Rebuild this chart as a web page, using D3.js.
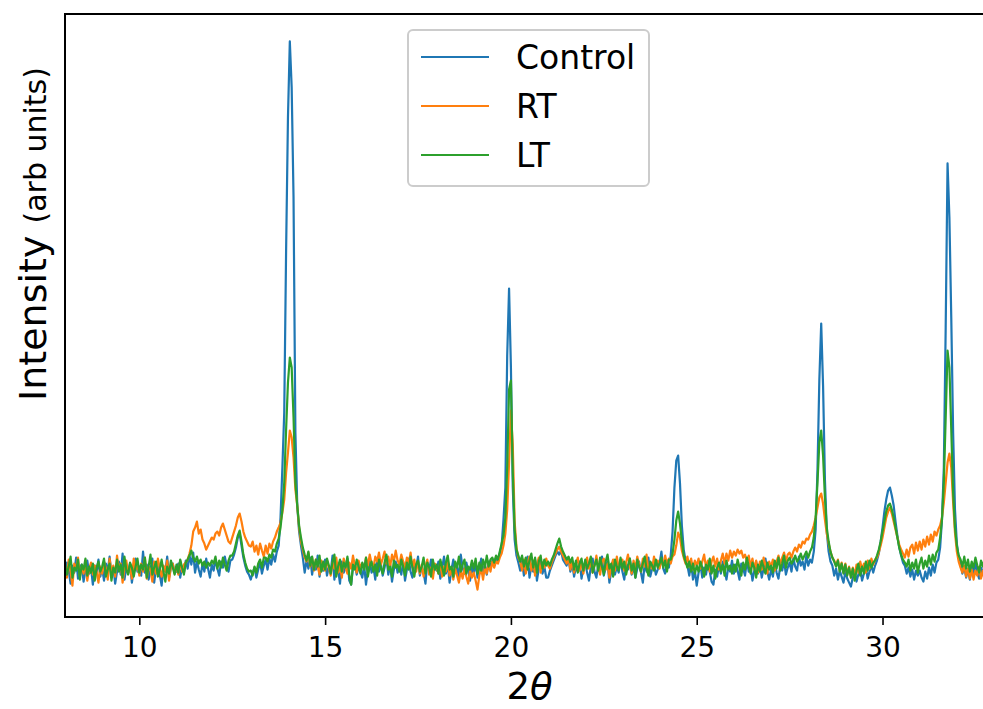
<!DOCTYPE html>
<html>
<head>
<meta charset="utf-8">
<script src="https://cdn.jsdelivr.net/npm/d3@7"></script>
<style>
  body { margin: 0; background: #fff; }
  svg text { font-family: "DejaVu Sans", sans-serif; fill: #000; }
</style>
</head>
<body>
<svg id="chart" width="983" height="709"></svg>
<script>
// scan grid: 2theta from 8.00 deg in 0.05 deg steps (one row = one degree)
const angleStart = 8.0;
const angleStep = 0.05;

const control = [
  42, 55, 47, 34, 52, 45, 60, 39, 49, 53, 36, 47, 57, 44, 50, 33, 52, 45, 58, 41,
  50, 37, 54, 46, 61, 42, 51, 34, 46, 56, 43, 64, 38, 50, 45, 54, 35, 48, 59, 46,
  51, 42, 66, 45, 53, 38, 48, 59, 35, 50, 56, 43, 32, 51, 46, 61, 40, 50, 54, 45,
  46, 54, 40, 51, 45, 57, 49, 62, 53, 65, 45, 56, 48, 41, 54, 46, 59, 49, 40, 53,
  47, 58, 49, 42, 56, 50, 61, 52, 46, 57, 58, 63, 70, 80, 84, 72, 60, 52, 46, 43,
  38, 45, 50, 40, 48, 55, 44, 52, 58, 48, 59, 53, 63, 56, 66, 72, 100, 150, 205, 367,
  500, 576, 530, 420, 185, 112, 86, 72, 60, 45, 57, 49, 60, 43, 55, 48, 62, 41, 54, 47,
  58, 42, 51, 46, 62, 38, 53, 48, 34, 56, 45, 51, 59, 37, 33, 50, 54, 43, 51, 46,
  40, 53, 33, 48, 58, 45, 51, 38, 59, 46, 54, 42, 50, 61, 43, 53, 36, 48, 56, 45,
  51, 43, 56, 37, 48, 59, 46, 40, 53, 50, 61, 42, 51, 45, 34, 55, 48, 58, 43, 51,
  47, 56, 39, 50, 61, 44, 53, 35, 48, 58, 45, 51, 40, 63, 50, 44, 55, 47, 37, 51,
  44, 55, 40, 49, 59, 46, 52, 43, 56, 51, 57, 52, 60, 56, 64, 72, 98, 130, 262, 329,
  250, 130, 78, 62, 55, 47, 56, 42, 51, 61, 40, 52, 46, 58, 37, 49, 56, 44, 51, 40,
  40, 47, 52, 57, 62, 66, 63, 67, 58, 55, 52, 59, 46, 54, 41, 51, 46, 56, 39, 49,
  55, 45, 37, 51, 59, 46, 40, 53, 48, 61, 42, 50, 56, 35, 46, 55, 43, 51, 45, 58,
  46, 38, 53, 48, 59, 43, 51, 40, 49, 56, 45, 35, 54, 46, 60, 41, 49, 53, 43, 48,
  54, 66, 49, 44, 57, 50, 62, 86, 130, 157, 162, 134, 92, 68, 57, 52, 42, 55, 38, 47,
  32, 45, 53, 40, 50, 43, 55, 46, 36, 33, 48, 41, 53, 44, 56, 48, 38, 51, 46, 57,
  44, 53, 47, 38, 54, 49, 42, 57, 46, 51, 37, 47, 56, 44, 53, 40, 49, 59, 46, 38,
  48, 41, 54, 45, 39, 52, 47, 57, 43, 50, 55, 46, 59, 51, 47, 61, 52, 56, 48, 62,
  52, 58, 55, 66, 88, 148, 238, 294, 232, 138, 86, 66, 56, 52, 42, 49, 38, 47, 41, 35,
  46, 39, 35, 31, 40, 47, 36, 43, 49, 37, 44, 51, 39, 46, 52, 45, 52, 57, 64, 76,
  90, 106, 118, 127, 130, 122, 112, 96, 82, 70, 62, 55, 52, 44, 50, 41, 48, 38, 47, 42,
  47, 40, 36, 46, 39, 50, 42, 53, 45, 55, 58, 70, 98, 150, 290, 454, 400, 300, 185, 108,
  74, 60, 54, 44, 51, 40, 49, 38, 52, 43, 55, 45, 39, 50, 43, 54, 40, 48, 52, 44
];

const rt = [
  51, 40, 58, 46, 32, 54, 48, 60, 41, 51, 44, 57, 37, 49, 55, 43, 52, 46, 35, 51,
  44, 56, 49, 38, 59, 46, 52, 41, 62, 48, 54, 35, 49, 57, 44, 51, 39, 59, 48, 53,
  42, 54, 46, 60, 39, 51, 48, 36, 56, 44, 59, 49, 41, 52, 46, 57, 37, 51, 54, 44,
  51, 43, 57, 46, 53, 55, 58, 64, 72, 86, 90, 96, 84, 88, 78, 74, 68, 72, 76, 80,
  78, 84, 86, 82, 90, 94, 88, 82, 76, 74, 80, 86, 92, 100, 104, 96, 86, 80, 76, 72,
  71, 76, 66, 72, 63, 74, 67, 61, 72, 64, 74, 69, 76, 80, 86, 90, 95, 105, 118, 145,
  165, 187, 180, 160, 128, 112, 90, 76, 68, 60, 56, 65, 51, 60, 47, 58, 51, 43, 57, 50,
  47, 57, 50, 42, 55, 49, 60, 45, 52, 40, 59, 50, 44, 55, 49, 62, 52, 45, 57, 50,
  54, 49, 60, 52, 63, 54, 50, 61, 56, 65, 53, 59, 66, 54, 61, 51, 63, 56, 67, 57,
  53, 63, 56, 49, 60, 54, 65, 50, 58, 46, 56, 44, 53, 41, 51, 58, 43, 50, 39, 54,
  50, 44, 55, 41, 51, 46, 56, 42, 50, 38, 49, 42, 35, 47, 39, 49, 41, 34, 47, 40,
  45, 37, 28, 42, 49, 38, 51, 44, 53, 46, 56, 50, 56, 54, 60, 64, 72, 84, 108, 155,
  207, 172, 96, 70, 60, 56, 47, 58, 44, 54, 61, 47, 57, 42, 53, 60, 45, 55, 50, 59,
  52, 49, 55, 60, 64, 68, 71, 66, 62, 58, 54, 60, 48, 57, 45, 54, 60, 47, 56, 44,
  54, 60, 49, 57, 45, 52, 62, 50, 43, 56, 59, 48, 54, 40, 52, 58, 47, 61, 50, 56,
  58, 47, 55, 63, 51, 44, 57, 49, 61, 53, 46, 59, 51, 63, 45, 55, 49, 61, 52, 57,
  49, 58, 52, 62, 53, 59, 54, 61, 63, 72, 85, 80, 67, 60, 54, 61, 51, 59, 48, 57,
  52, 59, 49, 56, 63, 50, 57, 46, 56, 61, 51, 59, 48, 57, 64, 54, 64, 57, 67, 60,
  66, 62, 68, 64, 67, 60, 63, 56, 62, 51, 59, 48, 57, 45, 56, 48, 60, 52, 44, 56,
  51, 58, 47, 56, 62, 53, 60, 65, 56, 63, 65, 60, 66, 70, 66, 73, 70, 76, 74, 79,
  78, 83, 86, 92, 100, 110, 120, 124, 114, 98, 84, 74, 66, 60, 57, 52, 58, 47, 55, 45,
  54, 43, 51, 40, 50, 42, 53, 45, 56, 48, 54, 45, 57, 49, 59, 53, 58, 60, 65, 72,
  80, 90, 100, 106, 110, 104, 96, 88, 80, 73, 68, 64, 60, 68, 61, 70, 73, 64, 75, 67,
  76, 68, 78, 71, 81, 73, 83, 76, 86, 82, 88, 92, 100, 115, 135, 155, 164, 150, 115, 85,
  66, 56, 50, 45, 52, 41, 49, 39, 48, 38, 47, 42, 51, 39, 47, 37, 49, 41, 48, 40
];

const lt = [
  54, 43, 51, 61, 40, 50, 47, 58, 38, 53, 48, 59, 42, 51, 45, 54, 37, 50, 56, 46,
  51, 59, 41, 48, 54, 37, 50, 45, 58, 46, 53, 40, 61, 48, 43, 55, 50, 41, 51, 59,
  45, 53, 48, 60, 40, 51, 63, 43, 50, 56, 41, 48, 58, 46, 36, 51, 44, 57, 50, 43,
  53, 45, 58, 50, 43, 55, 58, 62, 67, 60, 56, 61, 54, 58, 52, 56, 50, 55, 52, 57,
  54, 61, 49, 57, 50, 60, 53, 47, 57, 62, 62, 66, 74, 82, 87, 76, 63, 55, 49, 46,
  47, 42, 51, 45, 54, 58, 50, 60, 60, 56, 63, 60, 68, 66, 74, 79, 90, 108, 135, 188,
  235, 260, 250, 200, 135, 112, 92, 80, 70, 63, 57, 66, 52, 61, 48, 58, 51, 62, 46, 56,
  48, 59, 52, 44, 56, 63, 41, 51, 58, 46, 55, 50, 61, 43, 33, 53, 48, 58, 51, 44,
  55, 48, 60, 41, 51, 56, 46, 53, 42, 58, 50, 44, 55, 63, 48, 51, 41, 57, 50, 53,
  46, 58, 51, 42, 55, 48, 61, 50, 41, 53, 57, 46, 51, 60, 44, 55, 50, 41, 58, 48,
  53, 44, 58, 50, 42, 55, 62, 48, 51, 41, 56, 50, 61, 46, 53, 58, 44, 51, 48, 57,
  49, 59, 44, 55, 47, 58, 50, 62, 51, 58, 60, 55, 62, 58, 66, 74, 82, 100, 150, 228,
  237, 145, 88, 68, 62, 56, 62, 51, 60, 48, 57, 64, 50, 60, 45, 56, 62, 49, 58, 52,
  56, 52, 58, 62, 68, 74, 79, 71, 66, 62, 58, 61, 55, 60, 48, 57, 45, 54, 59, 47,
  58, 49, 54, 61, 45, 52, 58, 47, 60, 51, 43, 56, 63, 49, 54, 41, 58, 51, 47, 60,
  49, 56, 43, 52, 59, 47, 54, 40, 58, 51, 46, 54, 61, 49, 42, 56, 52, 47, 58, 50,
  54, 60, 50, 57, 46, 58, 58, 64, 78, 97, 106, 94, 76, 62, 56, 50, 56, 46, 54, 44,
  52, 46, 56, 50, 41, 53, 48, 59, 44, 52, 39, 50, 55, 46, 53, 42, 57, 48, 52, 44,
  53, 46, 58, 50, 42, 55, 48, 60, 51, 44, 55, 50, 40, 53, 46, 57, 50, 44, 55, 48,
  52, 45, 57, 49, 60, 47, 54, 62, 50, 57, 60, 54, 57, 62, 56, 59, 64, 58, 62, 66,
  60, 66, 70, 80, 100, 135, 175, 187, 162, 120, 90, 76, 66, 60, 56, 51, 57, 46, 54, 44,
  53, 42, 50, 40, 49, 37, 47, 54, 42, 51, 44, 56, 47, 57, 50, 55, 57, 62, 68, 76,
  86, 96, 106, 112, 114, 108, 100, 90, 80, 70, 63, 58, 55, 51, 58, 47, 55, 49, 58, 45,
  54, 60, 49, 57, 51, 62, 53, 63, 56, 65, 68, 80, 98, 135, 200, 267, 250, 188, 125, 90,
  72, 62, 58, 51, 61, 49, 58, 46, 56, 50, 60, 52, 45, 57, 51, 59, 47, 56, 50, 54
];

const seriesNames = ["Control", "RT", "LT"];
const seriesColors = ["#1f77b4", "#ff7f0e", "#2ca02c"];
const xTicks = [10, 15, 20, 25, 30];
const xDomain = [8, 33];

const twoTheta = control.map((d, i) => +(angleStart + i * angleStep).toFixed(2));

const svg = d3.select("#chart");
const plot = { left: 65, top: 14, right: 994, bottom: 617 };

const x = d3.scaleLinear().domain(xDomain).range([plot.left, plot.right]);

// matplotlib style autoscale: 5% margin on each side of the data
const allValues = control.concat(rt, lt);
const [yMin, yMax] = d3.extent(allValues);
const pad = (yMax - yMin) * 0.05;
const y = d3.scaleLinear().domain([yMin - pad, yMax + pad]).range([plot.bottom, plot.top]);

svg.append("defs").append("clipPath").attr("id", "plotClip")
  .append("rect")
  .attr("x", plot.left).attr("y", plot.top)
  .attr("width", plot.right - plot.left).attr("height", plot.bottom - plot.top);

const line = d3.line()
  .x((d, i) => x(twoTheta[i]))
  .y(d => y(d));

let series = [control, rt, lt];
svg.append("g").attr("clip-path", "url(#plotClip)")
  .selectAll("path").data(series).enter()
  .append("path")
  .attr("d", d => line(d))
  .attr("fill", "none")
  .attr("stroke", (d, i) => seriesColors[i])
  .attr("stroke-width", 2.2)
  .attr("stroke-linejoin", "round");

// x axis
let xAxis = svg.append("g")
  .attr("transform", "translate(0," + plot.bottom + ")")
  .call(d3.axisBottom(x).tickValues(xTicks).tickSize(8).tickPadding(12).tickFormat(d3.format("d")));
xAxis.select(".domain").remove();
xAxis.selectAll(".tick line").attr("stroke", "#000").attr("stroke-width", 1.6);
xAxis.selectAll(".tick text").attr("font-size", 28).attr("font-family", "DejaVu Sans");

// spines
svg.append("rect")
  .attr("x", plot.left).attr("y", plot.top)
  .attr("width", plot.right - plot.left).attr("height", plot.bottom - plot.top)
  .attr("fill", "none").attr("stroke", "#000").attr("stroke-width", 2);

// axis labels
let xLabel = svg.append("text")
  .attr("x", (plot.left + plot.right) / 2).attr("y", 699)
  .attr("text-anchor", "middle").attr("font-size", 37);
xLabel.append("tspan").text("2");
xLabel.append("tspan").attr("font-style", "italic").text("θ");

let yLabel = svg.append("text")
  .attr("transform", "translate(46,401) rotate(-90)")
  .attr("text-anchor", "start");
yLabel.append("tspan").attr("font-size", 38).text("Intensity ");
yLabel.append("tspan").attr("font-size", 30).text("(arb units)");

// legend
const legend = svg.append("g").attr("transform", "translate(408,30)");
legend.append("rect")
  .attr("width", 241).attr("height", 156).attr("rx", 5).attr("ry", 5)
  .attr("fill", "#fff").attr("fill-opacity", 0.8)
  .attr("stroke", "#cccccc").attr("stroke-width", 2);

let items = legend.selectAll("g.item").data(seriesNames).enter()
  .append("g").attr("class", "item")
  .attr("transform", (d, i) => "translate(0," + (27 + i * 49) + ")");
items.append("line")
  .attr("x1", 13).attr("x2", 81)
  .attr("stroke", (d, i) => seriesColors[i]).attr("stroke-width", 2);
items.append("text")
  .attr("x", 108).attr("y", 12)
  .attr("font-size", 33)
  .text(d => d);
</script>
</body>
</html>
